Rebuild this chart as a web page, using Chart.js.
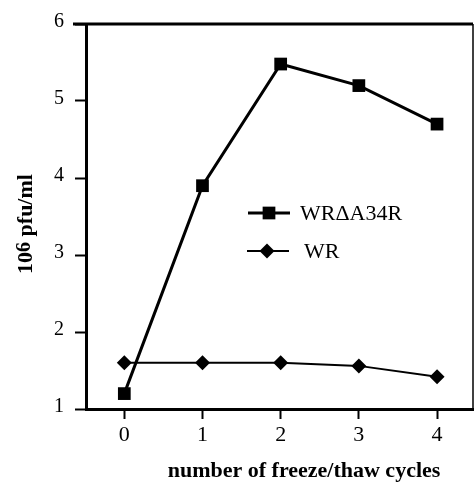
<!DOCTYPE html>
<html>
<head>
<meta charset="utf-8">
<script src="https://cdn.jsdelivr.net/npm/chart.js@4/dist/chart.umd.min.js"></script>
<style>
html,body{margin:0;padding:0;background:#fff;}
#wrap{width:475px;height:489px;position:relative;}
</style>
</head>
<body>
<div id="wrap"><canvas id="c" width="475" height="489"></canvas></div>
<script>
const cycles = [0, 1, 2, 3, 4];
const mutantValues = [1.2, 3.9, 5.48, 5.2, 4.7];
const wrValues = [1.6, 1.6, 1.6, 1.56, 1.42];
const seriesLabels = ['WRΔA34R', 'WR'];
const xTicks = [0, 1, 2, 3, 4];
const yTicks = [1, 2, 3, 4, 5, 6];
const xTitle = 'number of freeze/thaw cycles';
const yTitleBase = '10';
const yTitleExp = '6';
const yTitleRest = ' pfu/ml';

const SERIF = '"Liberation Serif", "Times New Roman", serif';

const framePlugin = {
  id: 'frame',
  afterDraw(chart) {
    const {ctx, chartArea: a} = chart;
    ctx.save();
    ctx.strokeStyle = '#000';
    ctx.lineWidth = 3;
    ctx.beginPath();
    ctx.moveTo(73, a.top);
    ctx.lineTo(a.right, a.top);
    ctx.stroke();
    ctx.lineWidth = 1.5;
    ctx.beginPath();
    ctx.moveTo(a.right, a.top);
    ctx.lineTo(a.right, a.bottom);
    ctx.stroke();

    // Axis titles
    ctx.fillStyle = '#000';
    ctx.font = 'bold 22px ' + SERIF;
    ctx.textAlign = 'center';
    ctx.textBaseline = 'middle';
    ctx.fillText(xTitle, 304, 471);

    ctx.translate(24, 224);
    ctx.rotate(-Math.PI / 2);
    ctx.textBaseline = 'alphabetic';
    ctx.textAlign = 'left';
    const fBig = 'bold 22px ' + SERIF;
    const fSup = 'bold 20px ' + SERIF;
    ctx.font = fBig;
    const w1 = ctx.measureText(yTitleBase).width;
    const w3 = ctx.measureText(yTitleRest).width;
    ctx.font = fSup;
    const w2 = ctx.measureText(yTitleExp).width;
    const total = w1 + w2 + w3;
    let x = -total / 2;
    const base = 8;
    ctx.font = fBig;
    ctx.fillText(yTitleBase, x, base);
    x += w1;
    ctx.font = fSup;
    ctx.fillText(yTitleExp, x, base - 2);
    x += w2;
    ctx.font = fBig;
    ctx.fillText(yTitleRest, x, base);
    ctx.restore();

    // Legend
    ctx.save();
    const rows = [{y: 213, x0: 248, x1: 290, mx: 269, tx: 300}, {y: 251, x0: 247, x1: 289, mx: 267, tx: 304}];
    chart.data.datasets.forEach((ds, i) => {
      const r = rows[i];
      ctx.strokeStyle = '#000';
      ctx.lineWidth = ds.borderWidth;
      ctx.beginPath();
      ctx.moveTo(r.x0, r.y);
      ctx.lineTo(r.x1, r.y);
      ctx.stroke();
      ctx.fillStyle = '#000';
      Chart.helpers.drawPoint(ctx, {pointStyle: ds.pointStyle, radius: ds.pointRadius, borderWidth: 0, rotation: 0}, r.mx, r.y);
      ctx.fillStyle = '#000';
      ctx.font = '22px ' + SERIF;
      ctx.textAlign = 'left';
      ctx.textBaseline = 'middle';
      ctx.fillText(ds.label, r.tx, r.y + 1);
    });
    ctx.restore();
  }
};

new Chart(document.getElementById('c'), {
  type: 'line',
  data: {
    datasets: [
      {
        label: seriesLabels[0],
        data: cycles.map((c, i) => ({x: c, y: mutantValues[i]})),
        borderColor: '#000', backgroundColor: '#000', borderWidth: 3,
        pointStyle: 'rect', pointRadius: 9, pointBorderWidth: 0, pointBackgroundColor: '#000', tension: 0
      },
      {
        label: seriesLabels[1],
        data: cycles.map((c, i) => ({x: c, y: wrValues[i]})),
        borderColor: '#000', backgroundColor: '#000', borderWidth: 2,
        pointStyle: 'rectRot', pointRadius: 7.5, pointBorderWidth: 0, pointBackgroundColor: '#000', tension: 0
      }
    ]
  },
  options: {
    responsive: false,
    animation: false,
    devicePixelRatio: 1,
    layout: {autoPadding: false, padding: {left: 0, top: 24, right: 2, bottom: 0}},
    plugins: {legend: {display: false}, tooltip: {enabled: false}},
    scales: {
      x: {
        type: 'linear', min: -0.49, max: 4.46,
        afterBuildTicks(scale) { scale.ticks = xTicks.map(v => ({value: v})); },
        afterFit(scale) { scale.height = 80; scale.paddingLeft = 0; scale.paddingRight = 0; },
        border: {display: true, color: '#000', width: 3},
        grid: {display: true, drawOnChartArea: false, drawTicks: true, tickLength: 10, tickWidth: 2, tickColor: '#000'},
        ticks: {color: '#000', font: {family: SERIF, size: 22}, padding: 3, maxRotation: 0}
      },
      y: {
        type: 'linear', min: 1, max: 6,
        afterBuildTicks(scale) { scale.ticks = yTicks.map(v => ({value: v})); },
        afterFit(scale) { scale.width = 86; scale.paddingTop = 0; scale.paddingBottom = 0; },
        border: {display: true, color: '#000', width: 3},
        grid: {display: true, drawOnChartArea: false, drawTicks: true, tickLength: 11, tickWidth: 2, tickColor: '#000'},
        ticks: {color: '#000', font: {family: SERIF, size: 20}, padding: 11, labelOffset: -2}
      }
    }
  },
  plugins: [framePlugin]
});
</script>
</body>
</html>
